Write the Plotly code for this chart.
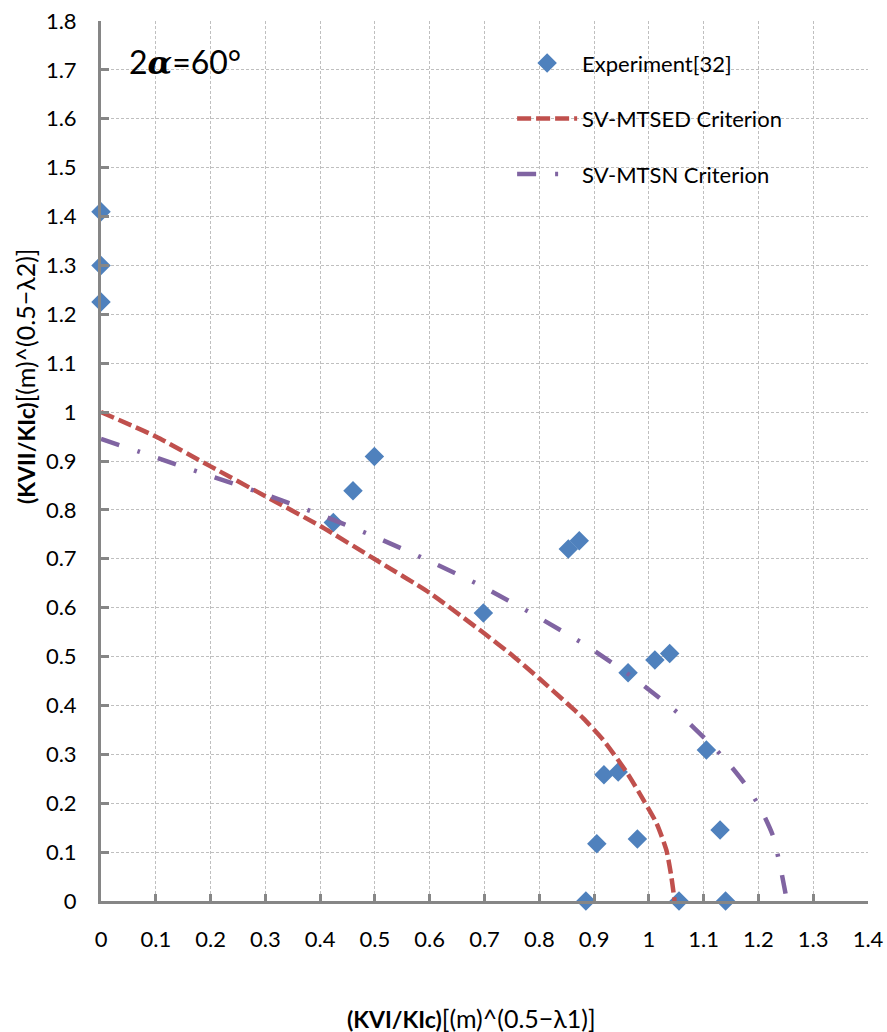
import plotly.graph_objects as go

# Experimental fracture data (normalised mode I / mode II stress intensities)
exp_x = [0, 0, 0, 0.424, 0.460, 0.499, 0.698, 0.853, 0.873, 0.962, 1.011, 1.038,
         1.105, 0.918, 0.944, 0.905, 0.979, 1.130, 0.885, 1.055, 1.140]
exp_y = [1.41, 1.30, 1.225, 0.774, 0.839, 0.909, 0.589, 0.720, 0.737, 0.467, 0.493, 0.506,
         0.309, 0.258, 0.264, 0.117, 0.127, 0.145, 0, 0, 0]

# SV-MTSED criterion curve
mtsed_x = [0, 0.1, 0.2, 0.3, 0.4, 0.5, 0.6, 0.7, 0.75, 0.8, 0.85, 0.88, 0.917, 0.959,
           0.99, 1.014, 1.032, 1.041, 1.047]
mtsed_y = [1.0, 0.95, 0.889, 0.828, 0.767, 0.699, 0.630, 0.547, 0.503, 0.455, 0.405, 0.374,
           0.329, 0.264, 0.207, 0.159, 0.104, 0.05, 0]

# SV-MTSN criterion curve
mtsn_x = [0, 0.083, 0.187, 0.291, 0.393, 0.496, 0.596, 0.695, 0.791, 0.885, 0.976, 1.061,
          1.139, 1.175, 1.203, 1.226, 1.239, 1.247, 1.252]
mtsn_y = [0.945, 0.914, 0.874, 0.835, 0.793, 0.747, 0.697, 0.644, 0.585, 0.523, 0.453, 0.377,
          0.29, 0.24, 0.191, 0.135, 0.075, 0.03, 0]

x_ticks = [0, 0.1, 0.2, 0.3, 0.4, 0.5, 0.6, 0.7, 0.8, 0.9, 1, 1.1, 1.2, 1.3, 1.4]
x_tick_text = ["0", "0.1", "0.2", "0.3", "0.4", "0.5", "0.6", "0.7", "0.8", "0.9",
               "1", "1.1", "1.2", "1.3", "1.4"]
y_ticks = [0, 0.1, 0.2, 0.3, 0.4, 0.5, 0.6, 0.7, 0.8, 0.9, 1, 1.1, 1.2, 1.3, 1.4,
           1.5, 1.6, 1.7, 1.8]
y_tick_text = ["0", "0.1", "0.2", "0.3", "0.4", "0.5", "0.6", "0.7", "0.8", "0.9", "1",
               "1.1", "1.2", "1.3", "1.4", "1.5", "1.6", "1.7", "1.8"]

FONT = "Lato, 'Open Sans', sans-serif"
BLUE = "#4F81BD"
RED = "#C0504D"
PURPLE = "#8064A2"
AXIS = "#868686"
GRID = "#BFBFBF"

fig = go.Figure()

fig.add_trace(go.Scatter(
    x=exp_x, y=exp_y, mode="markers", name="Experiment[32]",
    marker=dict(symbol="diamond", size=15, color=BLUE),
    cliponaxis=False, legendgroup="a",
))
fig.add_trace(go.Scatter(
    x=mtsed_x, y=mtsed_y, mode="lines", name="SV-MTSED Criterion",
    line=dict(color=RED, width=4.5, dash="14px,5px", shape="spline", smoothing=0.6),
    cliponaxis=False, legendgroup="b",
))
fig.add_trace(go.Scatter(
    x=mtsn_x, y=mtsn_y, mode="lines", name="SV-MTSN Criterion",
    line=dict(color=PURPLE, width=4.5, dash="19px,19px,3px,19px", shape="spline", smoothing=0.6),
    cliponaxis=False, legendgroup="c",
))

axis_common = dict(
    showline=True, linecolor=AXIS, linewidth=3,
    showgrid=True, gridcolor=GRID, gridwidth=1, griddash="3px,2px",
    ticks="inside", tickcolor=AXIS, tickwidth=3,
    tickfont=dict(family=FONT, size=22, color="#000000"),
    zeroline=False, mirror=False, automargin=False,
)

fig.update_xaxes(range=[0, 1.4], tickmode="array", tickvals=x_ticks, ticktext=x_tick_text,
                 ticklen=7, ticklabelstandoff=17, **axis_common)
fig.update_yaxes(range=[0, 1.8], tickmode="array", tickvals=y_ticks, ticktext=y_tick_text,
                 ticklen=8, ticklabelstandoff=17, **axis_common)

fig.update_layout(
    width=887, height=1032,
    margin=dict(l=101, r=19, t=21, b=131, autoexpand=False),
    paper_bgcolor="white", plot_bgcolor="white",
    font=dict(family=FONT, size=22, color="#000000"),
    showlegend=True,
    legend=dict(
        x=0.536, y=0.976, xanchor="left", yanchor="top",
        bgcolor="rgba(0,0,0,0)", borderwidth=0,
        font=dict(family=FONT, size=22, color="#000000"),
        tracegroupgap=24, itemwidth=60,
    ),
    shapes=[
        # white panels behind the legend and the angle label
        dict(type="rect", xref="paper", yref="paper", x0=0.464, x1=0.9726,
             y0=0.793, y1=0.986, fillcolor="white", line=dict(width=0), layer="between"),
        dict(type="rect", xref="paper", yref="paper", x0=0.0117, x1=0.1917,
             y0=0.925, y1=0.9977, fillcolor="white", line=dict(width=0), layer="between"),
    ],
    annotations=[
        dict(text="2<span style='font-family:DejaVu Serif'><b><i>α</i></b></span>=60°",
             xref="paper", yref="paper", x=(185 - 101) / 767, y=(901 - 62) / 880,
             xanchor="center", yanchor="middle", showarrow=False,
             font=dict(family=FONT, size=32, color="#000000")),
        dict(text="<b>(KVII/KIc)</b><span style='font-size:25px'>[(m)^(0.5−λ2)]</span>",
             xref="paper", yref="paper", x=(25 - 101) / 767, y=(901 - 377) / 880,
             xanchor="center", yanchor="middle", textangle=-90, showarrow=False,
             font=dict(family=FONT, size=23, color="#000000")),
        dict(text="<b>(KVI/KIc)</b><span style='font-size:25px'>[(m)^(0.5−λ1)]</span>",
             xref="paper", yref="paper", x=(471 - 101) / 767, y=(901 - 1018) / 880,
             xanchor="center", yanchor="middle", showarrow=False,
             font=dict(family=FONT, size=23, color="#000000")),
    ],
)

fig.write_html("out.html")
